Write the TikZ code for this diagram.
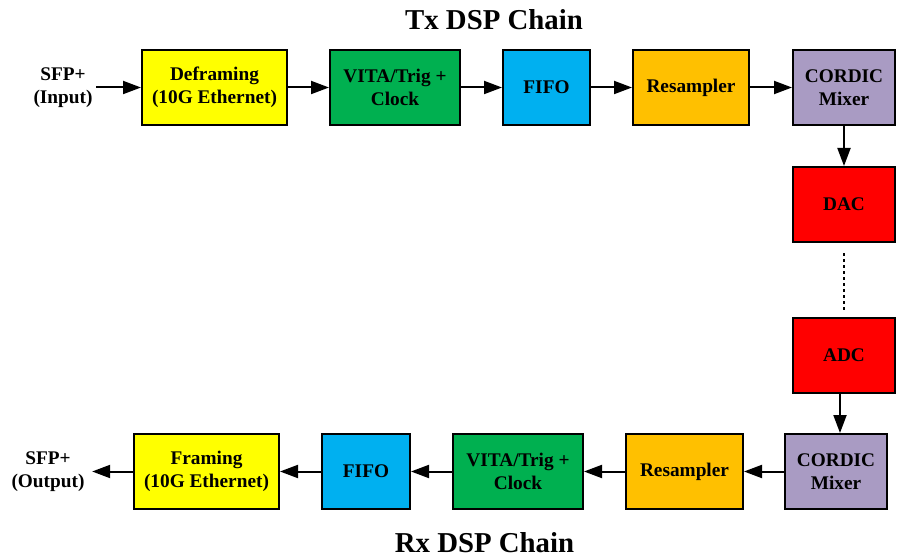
\documentclass[tikz,border=0pt]{standalone}
\usepackage{fontspec}
\setmainfont{Liberation Serif}
\usetikzlibrary{arrows.meta}
\definecolor{cyel}{HTML}{FFFF00}
\definecolor{cgrn}{HTML}{00B050}
\definecolor{cblu}{HTML}{00B0F0}
\definecolor{corg}{HTML}{FFC000}
\definecolor{cpur}{HTML}{A99BC3}
\definecolor{cred}{HTML}{FF0000}

\begin{document}
\begin{tikzpicture}[x=1pt,y=-1pt,
    blk/.style={draw,line width=2pt,minimum height=75pt,align=center,inner sep=0pt,
        font=\fontsize{19.3}{23.5}\selectfont\bfseries},
    io/.style={align=center,inner sep=3.5pt,font=\fontsize{19.3}{23.5}\selectfont\bfseries},
    ttl/.style={font=\fontsize{28.8}{34}\selectfont\bfseries},
    arr/.style={line width=2pt,-{Triangle[length=18pt,width=13pt]}}]
    \useasboundingbox (0,0) rectangle (903,559);
    % transmit chain
    \node[ttl,anchor=base] (txt) at (494,30) {Tx DSP Chain};
    \node[io] (sfpin) at (63,87.5) {SFP+\\(Input)};
    \node[blk,fill=cyel,minimum width=145pt] (defr) at (214.5,87.5) {Deframing\\(10G Ethernet)};
    \node[blk,fill=cgrn,minimum width=130pt] (vitatx) at (395,87.5) {VITA/Trig +\\Clock};
    \node[blk,fill=cblu,minimum width=87pt] (fifotx) at (546.5,87.5) {FIFO};
    \node[blk,fill=corg,minimum width=116pt] (resmptx) at (691,87.5) {Resampler};
    \node[blk,fill=cpur,minimum width=102pt] (cordtx) at (844,87.5) {CORDIC\\Mixer};
    \node[blk,fill=cred,minimum width=102pt] (dac) at (844,204.5) {DAC};
    % receive chain
    \node[blk,fill=cred,minimum width=102pt] (adc) at (844,355.5) {ADC};
    \node[blk,fill=cpur,minimum width=102pt] (cordrx) at (836,471.5) {CORDIC\\Mixer};
    \node[blk,fill=corg,minimum width=117pt] (resmprx) at (684.5,471.5) {Resampler};
    \node[blk,fill=cgrn,minimum width=130pt] (vitarx) at (518,471.5) {VITA/Trig +\\Clock};
    \node[blk,fill=cblu,minimum width=88pt] (fiforx) at (366,471.5) {FIFO};
    \node[blk,fill=cyel,minimum width=145pt] (fram) at (206.5,471.5) {Framing\\(10G Ethernet)};
    \node[io] (sfpout) at (48,471.5) {SFP+\\(Output)};
    \node[ttl,anchor=base] (rxt) at (484.5,552) {Rx DSP Chain};

    \draw[arr] (sfpin) -- (defr);
    \draw[arr] (defr) -- (vitatx);
    \draw[arr] (vitatx) -- (fifotx);
    \draw[arr] (fifotx) -- (resmptx);
    \draw[arr] (resmptx) -- (cordtx);
    \draw[arr] (cordtx) -- (dac);
    \draw[line width=2pt,dash pattern=on 3pt off 3pt,shorten <=10pt,shorten >=5pt] (dac) -- (adc);
    \draw[arr] ([xshift=-4pt]adc.south) -- ([xshift=-4pt]adc.south |- cordrx.north);
    \draw[arr] (cordrx) -- (resmprx);
    \draw[arr] (resmprx) -- (vitarx);
    \draw[arr] (vitarx) -- (fiforx);
    \draw[arr] (fiforx) -- (fram);
    \draw[arr,shorten >=4pt] (fram) -- (sfpout);
\end{tikzpicture}
\end{document}
